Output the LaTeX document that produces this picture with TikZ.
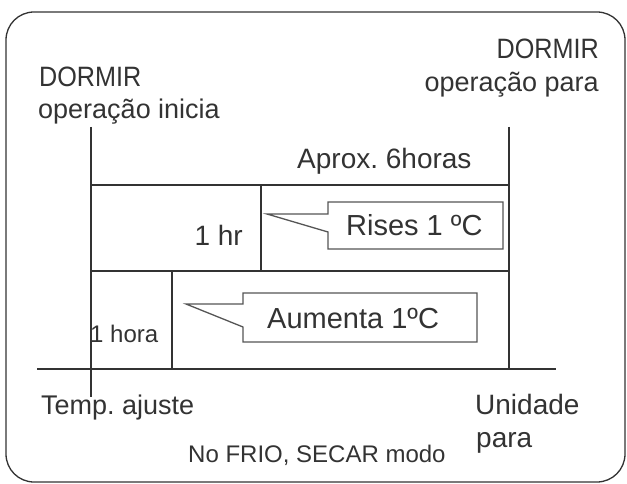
\documentclass[tikz,border=0pt]{standalone}
\usepackage{fontspec}
\setmainfont{Liberation Sans}
\newfontfamily\narrowf[FakeStretch=0.9]{Liberation Sans}
\newcommand\fsz[1]{\fontsize{#1pt}{#1pt}\selectfont}
\definecolor{txt}{HTML}{333333}
\definecolor{ln}{HTML}{333333}
\definecolor{cl}{HTML}{555555}
\tikzset{
  lbl/.style={inner sep=0pt, text=txt},
  mainline/.style={draw=ln, line width=2.6pt},
  thinline/.style={draw=ln, line width=2pt},
  callout/.style={draw=cl, line width=1.3pt, fill=white, line join=miter},
  frame/.style={draw=ln, line width=1.3pt, rounded corners=28pt}
}
\frenchspacing
\begin{document}
\begin{tikzpicture}[x=1pt,y=-1pt]
\useasboundingbox (0,0) rectangle (627,484);
\fill[white] (0,0) rectangle (627,484);
\draw[frame] (6,12) rectangle (625,482);

% coordinates
\coordinate (Ltop) at (91,127);
\coordinate (Lbot) at (91,397);
\coordinate (Rtop) at (509,127);
\coordinate (Rbot) at (509,369);
\coordinate (h1L) at (91,185);
\coordinate (h1R) at (509,185);
\coordinate (h2L) at (91,271);
\coordinate (h2R) at (509,271);
\coordinate (m1T) at (261,185);
\coordinate (m1B) at (261,271);
\coordinate (m2T) at (172,271);
\coordinate (m2B) at (172,369);
\coordinate (baseL) at (37,369);
\coordinate (baseR) at (556,369);

% lines
\draw[thinline] (Ltop) -- (Lbot);
\draw[thinline] (Rtop) -- (Rbot);
\draw[mainline] (h1L) -- (h1R);
\draw[mainline] (h2L) -- (h2R);
\draw[mainline] (h1L) -- (h2L);
\draw[mainline] (m1T) -- (m1B);
\draw[mainline] (m2T) -- (m2B);
\draw[mainline] (baseL) -- (baseR);

% callouts
\draw[callout] (328,202) -- (503,202) -- (503,249) -- (328,249) -- (328,232) -- (267,214) -- (328,214) -- cycle;
\draw[callout] (243,293) -- (477,293) -- (477,342) -- (243,342) -- (243,327) -- (186,304) -- (243,304) -- cycle;

% texts
\node[lbl, anchor=base west, font=\narrowf\fsz{28}] (dl1) at (39,87) {DORMIR};
\node[lbl, anchor=base west, font=\fsz{27}] (dl2) at (38,119) {operação inicia};
\node[lbl, anchor=base east, font=\narrowf\fsz{28}] (dr1) at (599,59) {DORMIR};
\node[lbl, anchor=base east, font=\fsz{27}] (dr2) at (599,92) {operação para};
\node[lbl, anchor=base west, font=\fsz{28}] (aprox) at (297,169) {Aprox. 6horas};
\node[lbl, anchor=base east, font=\fsz{28}] (hr) at (243,245) {1 hr};
\node[lbl, anchor=base west, font=\fsz{29}] (rises) at (346,235) {Rises 1 ºC};
\node[lbl, anchor=base west, font=\fsz{29}] (aum) at (267,328) {Aumenta 1ºC};
\node[lbl, anchor=base west, font=\fsz{24}] (hora) at (90,342) {1 hora};
\node[lbl, anchor=base west, font=\fsz{27}] (temp) at (41,414) {Temp. ajuste};
\node[lbl, anchor=base west, font=\fsz{28}] (unid) at (475,414) {Unidade};
\node[lbl, anchor=base west, font=\fsz{28}] (para) at (476,447) {para};
\node[lbl, anchor=base west, font=\fsz{24}] (frio) at (188,462) {No FRIO, SECAR modo};
\end{tikzpicture}
\end{document}
